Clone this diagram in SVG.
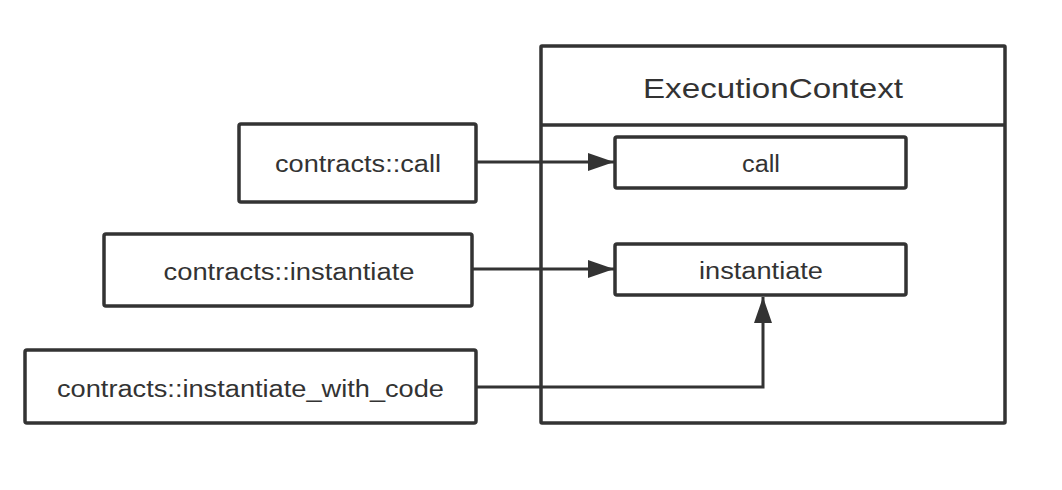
<svg xmlns="http://www.w3.org/2000/svg" width="1062" height="490" viewBox="0 0 1062 490">
<style>
.box{fill:#fff;stroke:#333;stroke-width:3.5}
.lbl{font-family:"Liberation Sans",Arial,sans-serif;fill:#333;text-anchor:middle}
.conn{fill:none;stroke:#333;stroke-width:3}
</style>
<defs>
<marker id="arr" markerUnits="userSpaceOnUse" markerWidth="30" markerHeight="20" refX="26" refY="9" orient="auto">
<path d="M0,0 L26,9 L0,18 z" fill="#333"/>
</marker>
</defs>
<rect width="1062" height="490" fill="#fff"/>
<g id="execution-context">
<rect class="box" x="541" y="46" width="464" height="377" rx="1"/>
<line x1="541" y1="125" x2="1005" y2="125" stroke="#333" stroke-width="3.5"/>
<text class="lbl" x="773" y="98" font-size="28" textLength="260" lengthAdjust="spacingAndGlyphs">ExecutionContext</text>
</g>
<g id="call">
<rect class="box" x="615" y="137" width="291" height="51" rx="2"/>
<text class="lbl" x="761" y="172" font-size="23" textLength="38" lengthAdjust="spacingAndGlyphs">call</text>
</g>
<g id="instantiate">
<rect class="box" x="615" y="244" width="291" height="51" rx="2"/>
<text class="lbl" x="761" y="279" font-size="23" textLength="124" lengthAdjust="spacingAndGlyphs">instantiate</text>
</g>
<g id="contracts-call">
<rect class="box" x="239" y="124" width="237" height="78" rx="2"/>
<text class="lbl" x="358" y="172" font-size="23" textLength="166" lengthAdjust="spacingAndGlyphs">contracts::call</text>
</g>
<g id="contracts-instantiate">
<rect class="box" x="104" y="234" width="368" height="72" rx="2"/>
<text class="lbl" x="289" y="280" font-size="23" textLength="251" lengthAdjust="spacingAndGlyphs">contracts::instantiate</text>
</g>
<g id="contracts-instantiate-with-code">
<rect class="box" x="25" y="350" width="451" height="73" rx="2"/>
<text class="lbl" x="250.5" y="397" font-size="23" textLength="387" lengthAdjust="spacingAndGlyphs">contracts::instantiate_with_code</text>
</g>
<g id="connectors">
<line class="conn" x1="476" y1="162" x2="614" y2="162" marker-end="url(#arr)"/>
<line class="conn" x1="472" y1="269" x2="614" y2="269" marker-end="url(#arr)"/>
<polyline class="conn" points="476,387 763,387 763,297" marker-end="url(#arr)"/>
</g>
</svg>
